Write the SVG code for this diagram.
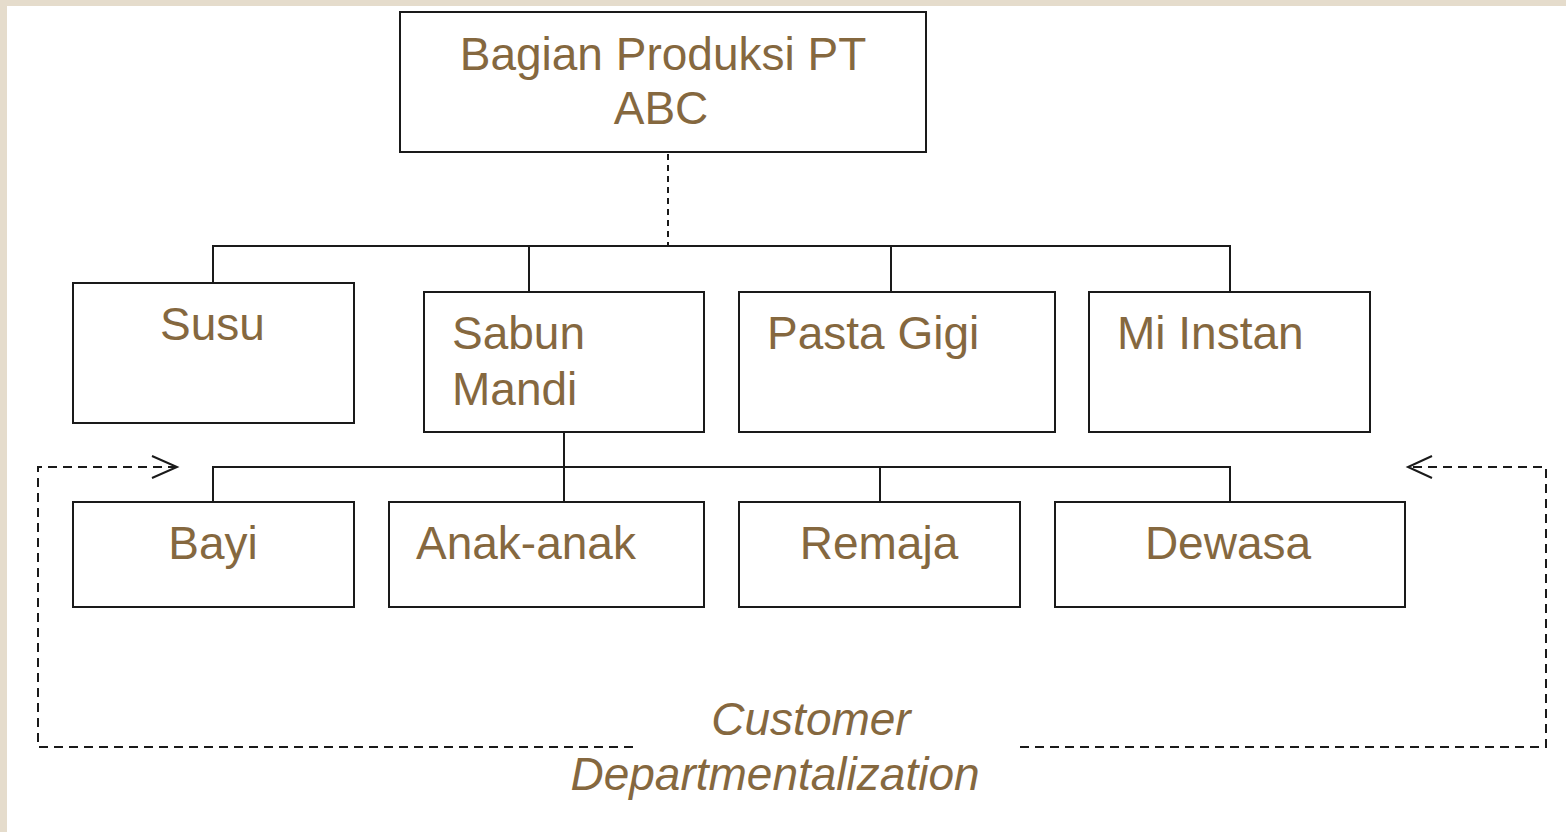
<svg xmlns="http://www.w3.org/2000/svg" width="1566" height="832" viewBox="0 0 1566 832">
  <style>
    .box { fill: #ffffff; stroke: #1a1a1a; stroke-width: 2; }
    .lbl { font-family: "Liberation Sans", Arial, sans-serif; font-size: 46px; fill: #85683f; }
    .mid { text-anchor: middle; }
    .solid { fill: none; stroke: #1a1a1a; stroke-width: 2; }
    .dash { fill: none; stroke: #1a1a1a; stroke-width: 2; stroke-dasharray: 9 6; }
    .cap { font-style: italic; text-anchor: middle; }
  </style>

  <!-- page background with the beige frame edge -->
  <rect x="0" y="0" width="1566" height="832" fill="#ffffff"/>
  <rect x="0" y="0" width="1566" height="6" fill="#e5dccc"/>
  <rect x="0" y="0" width="7" height="832" fill="#e5dccc"/>

  <g id="connectors">
    <!-- top box to the product row -->
    <line class="dash" x1="668" y1="143" x2="668" y2="246" style="stroke-dasharray:6 5"/>
    <polyline class="solid" points="213,283 213,246 1230,246 1230,292"/>
    <line class="solid" x1="529" y1="246" x2="529" y2="292"/>
    <line class="solid" x1="891" y1="246" x2="891" y2="292"/>
    <!-- Sabun Mandi to the customer row -->
    <line class="solid" x1="564" y1="432" x2="564" y2="502"/>
    <polyline class="solid" points="213,502 213,467 1230,467 1230,502"/>
    <line class="solid" x1="880" y1="467" x2="880" y2="502"/>
    <!-- customer departmentalization loop -->
    <polyline class="dash" points="633,747 38,747 38,467 176,467"/>
    <polyline class="solid" points="152,456 177,467 152,478"/>
    <polyline class="dash" points="1020,747 1546,747 1546,467 1409,467"/>
    <polyline class="solid" points="1432,456 1408,467 1432,478"/>
  </g>

  <g id="node-root">
    <rect class="box" x="400" y="12" width="526" height="140"/>
    <text class="lbl mid" x="663" y="70">Bagian Produksi PT</text>
    <text class="lbl mid" x="661" y="124">ABC</text>
  </g>

  <g id="node-susu">
    <rect class="box" x="73" y="283" width="281" height="140"/>
    <text class="lbl" x="160" y="340">Susu</text>
  </g>
  <g id="node-sabun">
    <rect class="box" x="424" y="292" width="280" height="140"/>
    <text class="lbl" x="452" y="349">Sabun</text>
    <text class="lbl" x="452" y="405">Mandi</text>
  </g>
  <g id="node-pasta">
    <rect class="box" x="739" y="292" width="316" height="140"/>
    <text class="lbl" x="767" y="349">Pasta Gigi</text>
  </g>
  <g id="node-mi">
    <rect class="box" x="1089" y="292" width="281" height="140"/>
    <text class="lbl" x="1117" y="349">Mi Instan</text>
  </g>

  <g id="node-bayi">
    <rect class="box" x="73" y="502" width="281" height="105"/>
    <text class="lbl mid" x="213" y="559">Bayi</text>
  </g>
  <g id="node-anak">
    <rect class="box" x="389" y="502" width="315" height="105"/>
    <text class="lbl" x="416" y="559">Anak-anak</text>
  </g>
  <g id="node-remaja">
    <rect class="box" x="739" y="502" width="281" height="105"/>
    <text class="lbl mid" x="879" y="559">Remaja</text>
  </g>
  <g id="node-dewasa">
    <rect class="box" x="1055" y="502" width="350" height="105"/>
    <text class="lbl mid" x="1228" y="559">Dewasa</text>
  </g>

  <g id="caption">
    <text class="lbl cap" x="811" y="735">Customer</text>
    <text class="lbl cap" x="775" y="790">Departmentalization</text>
  </g>
</svg>
